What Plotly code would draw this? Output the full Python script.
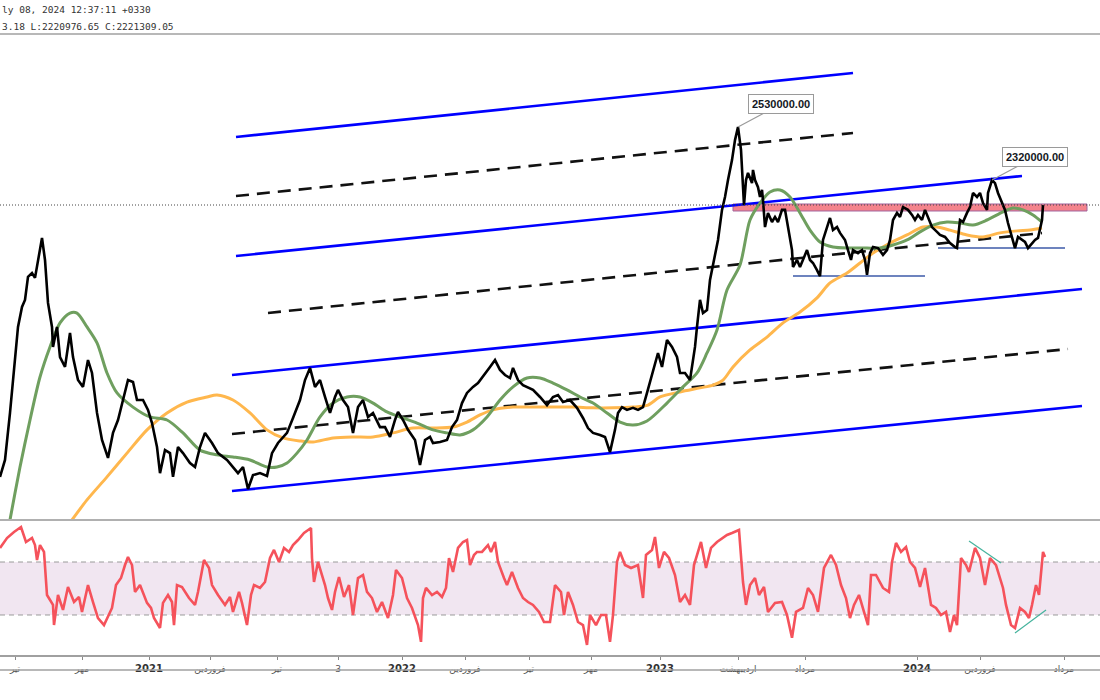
import plotly.graph_objects as go

# ---------------- header text ----------------
header_line1 = "ly 08, 2024 12:37:11 +0330"
header_line2 = "3.18 L:2220976.65 C:2221309.05"

# ---------------- price series (bar index, price in thousands) ----------------
price_bars = [0, 5, 10, 15, 18, 22, 25, 28, 32, 35, 38, 42, 45, 48, 52, 53, 57, 60, 65, 70,
              73, 78, 83, 88, 92, 97, 102, 108, 113, 118, 123, 128, 133, 137, 143, 148, 152, 157, 160, 165,
              170, 173, 178, 183, 190, 195, 200, 205, 212, 218, 227, 233, 238, 243, 248, 253, 260, 267, 272, 278,
              287, 293, 300, 305, 310, 315, 320, 325, 330, 335, 338, 343, 348, 353, 358, 363, 368, 373, 380, 385,
              390, 395, 398, 403, 408, 415, 420, 425, 430, 433, 440, 447, 452, 457, 462, 467, 473, 478, 485, 490,
              495, 500, 505, 510, 513, 518, 523, 528, 533, 540, 547, 553, 558, 563, 570, 577, 583, 588, 593, 600,
              605, 610, 615, 618, 622, 627, 633, 638, 643, 647, 653, 658, 662, 667, 672, 677, 680, 685, 690, 695,
              697, 700, 703, 707, 710, 715, 718, 722, 725, 728, 732, 735, 738,
              741, 744, 746, 748, 752, 753, 755, 758, 760, 762, 763, 765, 768, 772, 775, 778, 782, 785, 788, 792,
              793, 797, 800, 803, 807, 810, 813, 817, 820, 823, 827, 830, 833, 837, 840, 845, 848, 851, 853, 858,
              862, 865, 867, 870, 873, 878, 883, 887, 890, 893, 897, 900, 903, 908, 912, 915, 918, 922, 925, 928,
              932, 937, 940, 945, 950, 955, 957, 960, 963, 967, 970, 973, 977, 980, 983, 987, 988, 992, 995, 998,
              1002, 1005, 1008, 1012, 1015, 1018, 1022, 1025, 1028, 1032, 1035, 1038, 1042, 1043]
price_k = [1146, 1213, 1399, 1620, 1739, 1818, 1846, 1937, 1952, 1933, 1996, 2091, 2004, 1834, 1739, 1660, 1739, 1620, 1581, 1715,
           1620, 1529, 1502, 1608, 1557, 1399, 1292, 1221, 1320, 1371, 1450, 1529, 1521, 1450, 1450, 1411, 1359, 1264, 1161, 1252,
           1240, 1146, 1264, 1240, 1201, 1185, 1264, 1320, 1280, 1240, 1213, 1185, 1161, 1185, 1098, 1153, 1161, 1150, 1240, 1280,
           1320, 1379, 1450, 1529, 1577, 1502, 1529, 1462, 1399, 1462, 1490, 1450, 1422, 1320, 1422, 1450, 1383, 1399, 1343, 1343,
           1304, 1371, 1403, 1371, 1332, 1292, 1193, 1292, 1304, 1280, 1284, 1292, 1343, 1371, 1438, 1478, 1502, 1517, 1557, 1581,
           1608, 1569, 1549, 1537, 1577, 1529, 1509, 1498, 1490, 1462, 1430, 1462, 1470, 1442, 1450, 1419, 1379, 1339, 1320, 1312,
           1304, 1244, 1332, 1399, 1422, 1411, 1419, 1411, 1422, 1478, 1569, 1636, 1581, 1687, 1660, 1620, 1557, 1557, 1529, 1660,
           1739, 1846, 1794, 1806, 1925, 2016, 2083, 2202, 2253, 2320, 2399, 2478, 2530,
           2439, 2221, 2320, 2348, 2308, 2360, 2320, 2292, 2253, 2281, 2241, 2134, 2190, 2154, 2174, 2154, 2202, 2202, 2134, 2043,
           1976, 2004, 1976, 2004, 2043, 2004, 1992, 1964, 1940, 2083, 2134, 2170, 2122, 2134, 2111, 2083, 2043, 2004, 2043, 2031,
           2043, 2004, 1945, 2031, 2055, 2051, 2024, 2043, 2083, 2162, 2190, 2174, 2213, 2202, 2182, 2162, 2182, 2162, 2202, 2174,
           2134, 2115, 2103, 2095, 2071, 2055, 2051, 2162, 2154, 2190, 2213, 2269, 2253, 2269, 2229, 2202, 2269, 2320, 2308, 2269,
           2229, 2202, 2150, 2095, 2051, 2095, 2083, 2075, 2051, 2071, 2083, 2091, 2162, 2221]

# fast moving average (green)
ma_fast_bars = [0, 10, 20, 30, 40, 50, 60, 70, 77, 87, 97, 107, 117, 133, 150, 167, 183, 200, 217, 233,
                250, 267, 277, 287, 297, 307, 320, 333, 347, 360, 373, 387, 400, 417, 433, 447, 460, 473, 487, 500,
                513, 527, 540, 553, 567, 580, 593, 607, 620, 633, 647, 667, 683, 697, 707, 717, 727, 740, 750, 760,
                770, 780, 790, 800, 810, 820, 833, 850, 867, 880, 893, 907, 920, 933, 947, 960, 973, 987, 1003, 1013,
                1023, 1033, 1042]
ma_fast_k = [766, 976, 1185, 1371, 1541, 1660, 1755, 1794, 1794, 1739, 1676, 1557, 1478, 1422, 1383, 1371, 1320, 1252, 1233, 1225,
             1213, 1185, 1185, 1201, 1240, 1292, 1383, 1438, 1462, 1462, 1438, 1403, 1383, 1359, 1332, 1320, 1312, 1332, 1383, 1450,
             1502, 1537, 1537, 1517, 1490, 1462, 1438, 1399, 1363, 1351, 1367, 1438, 1502, 1557, 1636, 1727, 1885, 1984, 2162, 2229,
             2273, 2281, 2253, 2190, 2122, 2075, 2055, 2051, 2051, 2051, 2063, 2083, 2115, 2142, 2154, 2150, 2142, 2162, 2194, 2209,
             2202, 2182, 2154]

# slow moving average (orange)
ma_slow_bars = [45, 72, 87, 107, 127, 147, 167, 187, 207, 217, 233, 250, 267, 283, 300, 313, 333, 353, 373, 393,
                413, 433, 453, 467, 480, 493, 513, 533, 553, 573, 593, 613, 633, 648, 660, 680, 700, 713, 723, 733,
                750, 767, 783, 800, 817, 830, 847, 860, 873, 890, 907, 923, 937, 950, 967, 983, 1000, 1017, 1030, 1042]
ma_slow_k = [833, 976, 1055, 1146, 1240, 1332, 1399, 1442, 1462, 1470, 1450, 1399, 1332, 1300, 1288, 1284, 1300, 1304, 1304, 1320,
             1339, 1339, 1343, 1363, 1391, 1411, 1422, 1422, 1422, 1422, 1419, 1419, 1422, 1430, 1462, 1482, 1498, 1509, 1529, 1581,
             1648, 1699, 1755, 1798, 1854, 1913, 1952, 1992, 2031, 2071, 2103, 2134, 2134, 2122, 2103, 2095, 2111, 2119, 2122, 2130]

# RSI
rsi_bars = [0, 7, 14, 21, 26, 32, 35, 37, 40, 44, 47, 53, 54, 58, 63, 68, 74, 79, 82, 88,
            93, 98, 104, 109, 112, 116, 121, 125, 128, 132, 135, 140, 144, 147, 151, 154, 160, 163, 168, 172,
            174, 177, 182, 189, 195, 198, 204, 209, 212, 218, 225, 230, 233, 239, 242, 247, 251, 254, 260, 265,
            270, 274, 279, 284, 289, 293, 298, 304, 311, 312, 314, 318, 321, 325, 328, 332, 335, 339, 344, 349,
            353, 358, 363, 367, 372, 377, 382, 388, 393, 396, 402, 407, 412, 418, 421, 423, 426, 432, 437, 442,
            446, 449, 453, 458, 463, 467, 470, 474, 477, 482, 488, 491, 495, 498, 504, 507, 512, 518, 523, 528,
            533, 539, 544, 550, 555, 561, 564, 568, 573, 578, 583, 587, 590, 596, 601, 606, 610, 613, 617, 620,
            625, 631, 638, 643, 646, 652, 655, 659, 664, 669, 675, 680, 685, 690, 694, 697, 701, 706, 711, 717,
            722, 727, 732, 739, 743, 746, 750, 755, 759, 764, 768, 775, 782, 787, 792, 796, 803, 808, 813, 818,
            824, 831, 836, 841, 846, 850, 854, 859, 864, 868, 871, 876, 883, 889, 892, 896, 901, 906, 910, 915,
            920, 925, 931, 936, 941, 946, 950, 954, 957, 961, 966, 969, 975, 980, 985, 990, 996, 1003, 1006, 1011,
            1015, 1020, 1025, 1029, 1032, 1036, 1039, 1043, 1045]
rsi_vals = [80.6, 88.1, 92.6, 96.4, 85.1, 88.1, 82.8, 71.5, 82.8, 77.6, 45.1, 37.6, 22.4, 45.1, 33.8, 51.1, 39.8, 43.6, 32.3, 52.6,
            39.8, 27.7, 22.4, 30.0, 35.3, 52.6, 57.9, 67.7, 73.8, 67.7, 47.4, 52.6, 45.1, 39.1, 35.3, 27.7, 20.2, 39.1, 45.1, 39.8,
            22.4, 52.6, 51.1, 42.8, 37.6, 47.4, 71.5, 65.5, 52.6, 45.1, 37.6, 43.6, 32.3, 47.4, 39.1, 22.4, 45.1, 52.6, 50.4, 54.9,
            73.0, 79.1, 70.0, 80.6, 77.6, 82.8, 86.6, 91.9, 95.7, 73.0, 54.9, 70.0, 62.5, 52.6, 42.8, 33.8, 47.4, 58.7, 43.6, 52.6,
            30.0, 57.9, 60.2, 47.4, 42.8, 32.3, 39.8, 27.7, 45.1, 64.0, 57.9, 42.8, 35.3, 22.4, 9.7, 42.8, 50.4, 45.1, 47.4, 43.6,
            50.4, 73.0, 62.5, 80.6, 85.1, 86.6, 67.7, 75.3, 77.6, 77.6, 82.8, 77.6, 85.1, 70.0, 57.9, 52.6, 62.5, 50.4, 42.8, 39.8,
            37.6, 32.3, 24.7, 24.7, 52.6, 47.4, 30.0, 47.4, 37.6, 24.7, 22.4, 7.4, 30.0, 22.4, 30.0, 30.0, 9.7, 30.0, 70.0, 77.6,
            67.7, 65.5, 67.7, 42.8, 75.3, 79.1, 88.9, 65.5, 77.6, 73.0, 60.2, 39.8, 45.1, 37.6, 67.7, 75.3, 85.1, 65.5, 80.6, 85.1,
            88.1, 90.4, 91.9, 94.2, 54.9, 37.6, 52.6, 57.9, 45.1, 51.1, 32.3, 39.1, 39.8, 30.0, 12.8, 32.3, 35.3, 50.4, 45.1, 32.3,
            65.5, 75.3, 67.7, 52.6, 42.8, 27.7, 37.6, 45.1, 32.3, 22.4, 60.2, 60.2, 50.4, 47.4, 70.0, 84.4, 77.6, 81.3, 70.0, 65.5,
            51.1, 65.5, 37.6, 35.3, 30.0, 32.3, 17.2, 30.0, 22.4, 73.0, 67.7, 62.5, 80.6, 73.0, 52.6, 73.0, 67.7, 50.4, 37.6, 22.4,
            20.2, 35.3, 32.3, 27.7, 37.6, 52.6, 45.1, 77.6, 73.8]
rsi_upper = 70
rsi_lower = 30

assert len(price_bars) == len(price_k)
assert len(ma_fast_bars) == len(ma_fast_k)
assert len(ma_slow_bars) == len(ma_slow_k)
assert len(rsi_bars) == len(rsi_vals)

# ---------------- drawings ----------------
ch_top_bars, ch_top_k = [236, 853], [2490.3, 2743.4]
ch_2_bars, ch_2_k = [236, 1022], [2019.6, 2336.0]
ch_3_bars, ch_3_k = [232, 1082], [1549.0, 1889.1]
ch_bot_bars, ch_bot_k = [232, 1082], [1090.2, 1426.4]
mid_top_bars, mid_top_k = [236, 853], [2256.9, 2506.1]
mid_2_bars, mid_2_k = [268, 1042], [1794.2, 2110.6]
mid_bot_bars, mid_bot_k = [232, 1068], [1315.6, 1651.8]
sup1_bars, sup1_k = [793, 925], [1940.5, 1940.5]
sup2_bars, sup2_k = [938, 1065], [2051.3, 2051.3]
zone_bars, zone_k = [733, 1087], [2197.6, 2225.3]
last_close_k = 2221.309
peak1_bar, peak1_k, peak1_text = 738, 2530, "2530000.00"
peak2_bar, peak2_k, peak2_text = 992, 2320, "2320000.00"
div1_bars, div1_rsi = [969, 1001], [85.8, 69.3]
div2_bars, div2_rsi = [1015, 1046], [16.4, 33.8]

# ---------------- x axis labels ----------------
tick_bars = [15, 82, 149, 210, 277, 338, 402, 465, 529, 591, 660, 738, 805, 917, 980, 1064]
tick_labels = ["تیر", "مهر", "2021", "فروردین", "تیر", "3", "2022", "فروردین", "تیر",
               "مهر", "2023", "اردیبهشت", "مرداد", "2024", "فروردین", "مرداد"]

x_range = [0, 1100]
main_range = [975.5, 2897.6]
rsi_range = [-0.2, 101.7]

H = 700.0
main_top, main_bot, rsi_bot, axis_bot = 34, 520, 655, 670

fig = go.Figure()

BLUE = "#0000ff"
for bx, by in [(ch_top_bars, ch_top_k), (ch_2_bars, ch_2_k), (ch_3_bars, ch_3_k), (ch_bot_bars, ch_bot_k)]:
    fig.add_trace(go.Scatter(x=bx, y=by, mode="lines", line=dict(color=BLUE, width=2.6),
                             xaxis="x", yaxis="y", hoverinfo="skip"))
for bx, by in [(mid_top_bars, mid_top_k), (mid_2_bars, mid_2_k), (mid_bot_bars, mid_bot_k)]:
    fig.add_trace(go.Scatter(x=bx, y=by, mode="lines", line=dict(color="#111111", width=2.6, dash="13px,8px"),
                             xaxis="x", yaxis="y", hoverinfo="skip"))
for bx, by in [(sup1_bars, sup1_k), (sup2_bars, sup2_k)]:
    fig.add_trace(go.Scatter(x=bx, y=by, mode="lines", line=dict(color="#3d5aa8", width=1.6),
                             xaxis="x", yaxis="y", hoverinfo="skip"))

fig.add_trace(go.Scatter(x=ma_slow_bars, y=ma_slow_k, mode="lines",
                         line=dict(color="#ffb74d", width=3, shape="spline", smoothing=0.8),
                         xaxis="x", yaxis="y", hoverinfo="skip"))
fig.add_trace(go.Scatter(x=ma_fast_bars, y=ma_fast_k, mode="lines",
                         line=dict(color="#6f9f5f", width=3, shape="spline", smoothing=0.8),
                         xaxis="x", yaxis="y", hoverinfo="skip"))
fig.add_trace(go.Scatter(x=price_bars, y=price_k, mode="lines", line=dict(color="#000000", width=2.6),
                         xaxis="x", yaxis="y", hoverinfo="skip"))

# RSI
fig.add_trace(go.Scatter(x=rsi_bars, y=rsi_vals, mode="lines", line=dict(color="#f5525b", width=2.6),
                         xaxis="x2", yaxis="y2", hoverinfo="skip"))
for bx, by in [(div1_bars, div1_rsi), (div2_bars, div2_rsi)]:
    fig.add_trace(go.Scatter(x=bx, y=by, mode="lines", line=dict(color="#45b39d", width=1.2),
                             xaxis="x2", yaxis="y2", hoverinfo="skip"))

shapes = [
    # resistance zone
    dict(type="rect", xref="x", yref="y", x0=zone_bars[0], x1=zone_bars[1], y0=zone_k[0], y1=zone_k[1],
         fillcolor="#f4838c", line=dict(color="#a0649c", width=1), layer="below"),
    # last close dotted line
    dict(type="line", xref="paper", yref="y", x0=0, x1=1, y0=last_close_k, y1=last_close_k,
         line=dict(color="#444444", width=1, dash="1px,2px")),
    # RSI band
    dict(type="rect", xref="paper", yref="y2", x0=0, x1=1, y0=rsi_lower, y1=rsi_upper,
         fillcolor="#f1e6f1", line=dict(width=0), layer="below"),
    dict(type="line", xref="paper", yref="y2", x0=0, x1=1, y0=rsi_upper, y1=rsi_upper,
         line=dict(color="#9a9a9a", width=1, dash="5px,4px"), layer="below"),
    dict(type="line", xref="paper", yref="y2", x0=0, x1=1, y0=rsi_lower, y1=rsi_lower,
         line=dict(color="#9a9a9a", width=1, dash="5px,4px"), layer="below"),
    # pane borders
    dict(type="line", xref="paper", yref="paper", x0=0, x1=1, y0=1 - main_top / H, y1=1 - main_top / H,
         line=dict(color="#a0a0a0", width=1.5)),
    dict(type="line", xref="paper", yref="paper", x0=0, x1=1, y0=1 - main_bot / H, y1=1 - main_bot / H,
         line=dict(color="#b0b0b0", width=2)),
    dict(type="line", xref="paper", yref="paper", x0=0, x1=1, y0=1 - axis_bot / H, y1=1 - axis_bot / H,
         line=dict(color="#a0a0a0", width=1.5)),
]

annotations = [
    dict(xref="paper", yref="paper", x=0, y=1 - 10 / H, xanchor="left", yanchor="middle", showarrow=False,
         text=header_line1, font=dict(family="DejaVu Sans Mono", size=9.5, color="#333333")),
    dict(xref="paper", yref="paper", x=0, y=1 - 26 / H, xanchor="left", yanchor="middle", showarrow=False,
         text=header_line2, font=dict(family="DejaVu Sans Mono", size=9.5, color="#333333")),
]
for bx, by, txt in [(peak1_bar, peak1_k, peak1_text), (peak2_bar, peak2_k, peak2_text)]:
    annotations.append(dict(x=bx, y=by, xref="x", yref="y", text="<b>" + txt + "</b>", showarrow=True,
                            arrowhead=0, arrowwidth=1.2, arrowcolor="#9a9a9a", ax=43, ay=-23,
                            bgcolor="white", bordercolor="#9a9a9a", borderwidth=1, borderpad=3,
                            font=dict(family="Liberation Sans", size=11, color="#131722")))

tick_text = []
for lab in tick_labels:
    if lab.isdigit() and len(lab) == 4:
        tick_text.append("<b>" + lab + "</b>")
    else:
        tick_text.append('<span style="color:#555555;font-size:9px">' + lab + "</span>")

fig.update_layout(
    width=1100, height=700, margin=dict(l=0, r=0, t=0, b=0),
    paper_bgcolor="white", plot_bgcolor="white", showlegend=False,
    shapes=shapes, annotations=annotations,
    xaxis=dict(domain=[0, 1], range=x_range, anchor="y", showticklabels=False, showgrid=False,
               zeroline=False, showline=False, ticks=""),
    yaxis=dict(domain=[1 - main_bot / H, 1 - main_top / H], range=main_range, visible=False),
    xaxis2=dict(domain=[0, 1], range=x_range, anchor="y2", tickmode="array", tickvals=tick_bars,
                ticktext=tick_text, ticks="outside", ticklen=3, tickcolor="#888888", tickwidth=1,
                showgrid=False, zeroline=False, showline=True, linecolor="#a0a0a0", linewidth=1.5,
                tickfont=dict(family="DejaVu Sans", size=10, color="#333333"), tickangle=0),
    yaxis2=dict(domain=[1 - rsi_bot / H, 1 - main_bot / H], range=rsi_range, visible=False),
)

fig.write_html("out.html")
